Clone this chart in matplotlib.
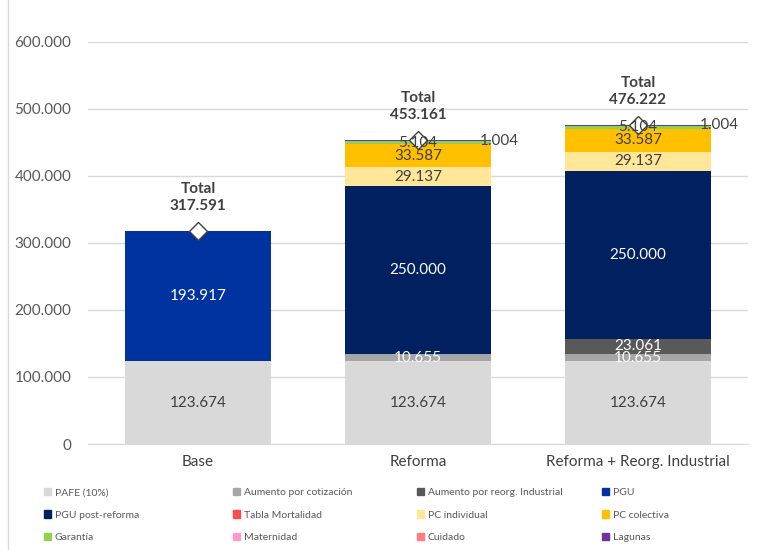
import matplotlib.pyplot as plt
from matplotlib.lines import Line2D
from matplotlib.patches import Patch

plt.rcParams['font.family'] = ['Lato', 'DejaVu Sans']

categories = ['Base', 'Reforma', 'Reforma + Reorg. Industrial']

pafe = [123674, 123674, 123674]
aumento_cot = [0, 10655, 10655]
aumento_reorg = [0, 0, 23061]
pgu = [193917, 0, 0]
pgu_post = [0, 250000, 250000]
tabla_mort = [0, 0, 0]
pc_individual = [0, 29137, 29137]
pc_colectiva = [0, 33587, 33587]
garantia = [0, 5104, 5104]
maternidad = [0, 0, 0]
cuidado = [0, 0, 0]
lagunas = [0, 1004, 1004]
totals = [317591, 453161, 476222]

# (label, values, colour, label text colour)
series = [
    ('PAFE (10%)', pafe, '#d9d9d9', '#404040'),
    ('Aumento por cotización', aumento_cot, '#a6a6a6', 'white'),
    ('Aumento por reorg. Industrial', aumento_reorg, '#595959', 'white'),
    ('PGU', pgu, '#0033a0', 'white'),
    ('PGU post-reforma', pgu_post, '#002060', 'white'),
    ('Tabla Mortalidad', tabla_mort, '#ff4b4b', '#404040'),
    ('PC individual', pc_individual, '#ffe699', '#404040'),
    ('PC colectiva', pc_colectiva, '#ffc000', '#404040'),
    ('Garantía', garantia, '#92d050', '#404040'),
    ('Maternidad', maternidad, '#ff99cc', '#404040'),
    ('Cuidado', cuidado, '#ff7c80', '#404040'),
    ('Lagunas', lagunas, '#7030a0', '#404040'),
]


def fmt(v):
    return f'{v:,}'.replace(',', '.')


fig = plt.figure(figsize=(7.75, 5.5), dpi=100)
ax = fig.add_axes([88 / 775, 1 - 444 / 550, 660 / 775, 402 / 550])

x = list(range(len(categories)))
width = 0.665
bottom = [0] * len(categories)
handles = []
for name, vals, color, tcol in series:
    ax.bar(x, vals, width, bottom=bottom, color=color, zorder=2)
    handles.append(Patch(color=color, label=name))
    for i, v in enumerate(vals):
        if v == 0:
            continue
        yc = bottom[i] + v / 2
        if name == 'Lagunas':
            ax.text(x[i] + 0.37, yc, fmt(v), ha='center', va='center',
                    fontsize=11, color='#404040', zorder=4)
        else:
            ax.text(x[i], yc, fmt(v), ha='center', va='center',
                    fontsize=11, color=tcol, zorder=4)
    bottom = [b + v for b, v in zip(bottom, vals)]

# totals
ax.plot(x, totals, linestyle='none', marker='D', markersize=9,
        markerfacecolor='white', markeredgecolor='#404040',
        markeredgewidth=1, zorder=3)
for i, t in enumerate(totals):
    ax.annotate('Total\n' + fmt(t), (x[i], t), xytext=(0, 13),
                textcoords='offset points', ha='center', va='bottom',
                fontsize=11, fontweight='bold', color='#404040',
                linespacing=1.3)

ax.set_xlim(-0.5, 2.5)
ax.set_ylim(0, 600000)
ax.set_yticks(range(0, 600001, 100000))
ax.set_yticklabels([fmt(v) for v in range(0, 600001, 100000)])
ax.set_xticks(x)
ax.set_xticklabels(categories)
ax.tick_params(axis='y', length=0, pad=12, labelsize=11, labelcolor='#595959')
ax.tick_params(axis='x', length=0, pad=8, labelsize=11, labelcolor='#404040')
ax.grid(axis='y', color='#d9d9d9', linewidth=1, zorder=0)
ax.set_axisbelow(True)
for s in ['top', 'right', 'left']:
    ax.spines[s].set_visible(False)
ax.spines['bottom'].set_color('#d9d9d9')

# legend, row by row in 4 columns
col_x = [40, 229, 413, 598]
for c in range(4):
    hs = [handles[r * 4 + c] for r in range(3)]
    fig.legend(handles=hs, loc='upper left',
               bbox_to_anchor=(col_x[c] / 775, 1 - 484 / 550),
               frameon=False, fontsize=7.5, handlelength=0.7,
               handleheight=0.7, handletextpad=0.3, labelspacing=1.25,
               labelcolor='#595959', borderaxespad=0)

fig.add_artist(Line2D([8 / 775, 8 / 775], [0, 1], color='#d9d9d9',
                      linewidth=1, transform=fig.transFigure))

fig.savefig('out.png', dpi=100)
